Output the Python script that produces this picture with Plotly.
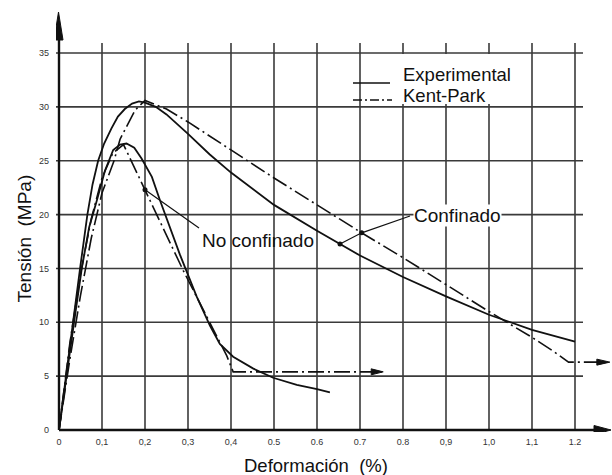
import numpy as np
import plotly.graph_objects as go

# ---------------- data ----------------
x_ticks = [0, 0.1, 0.2, 0.3, 0.4, 0.5, 0.6, 0.7, 0.8, 0.9, 1.0, 1.1, 1.2]
x_tick_labels = ["0", "0,1", "0,2", "0,3", "0,4", "0.5", "0.6", "0.7", "0.8", "0,9", "1,0", "1,1", "1.2"]
y_ticks = [0, 5, 10, 15, 20, 25, 30, 35]
y_tick_labels = ["0", "5", "10", "15", "20", "25", "30", "35"]

# Experimental, confined (solid)
exp_conf_x = [0, 0.016, 0.033, 0.049, 0.066, 0.078, 0.091, 0.105, 0.122, 0.137, 0.153, 0.17, 0.186,
              0.2, 0.225, 0.25, 0.3, 0.35, 0.4, 0.5, 0.6, 0.7, 0.8, 0.9, 1.0, 1.1, 1.2]
exp_conf_y = [0, 5.0, 10.0, 15.0, 20.0, 22.8, 25.0, 26.6, 28.0, 29.1, 29.8, 30.3, 30.5,
              30.4, 30.0, 29.3, 27.5, 25.6, 23.9, 20.9, 18.5, 16.2, 14.2, 12.4, 10.7, 9.3, 8.2]

# Experimental, unconfined (solid)
exp_unconf_x = [0, 0.017, 0.035, 0.053, 0.07, 0.088, 0.107, 0.126, 0.142, 0.157, 0.175, 0.192,
                0.216, 0.235, 0.26, 0.281, 0.297, 0.32, 0.351, 0.374, 0.405, 0.452, 0.498, 0.553, 0.6, 0.63]
exp_unconf_y = [0, 5.0, 10.0, 15.0, 18.8, 21.3, 24.1, 26.0, 26.5, 26.6, 26.2, 25.2,
                23.5, 21.3, 18.5, 16.3, 14.7, 12.4, 9.7, 8.0, 6.8, 5.7, 4.85, 4.2, 3.8, 3.5]

# Kent-Park model, confined (dash-dot)
kp_conf_x = [0, 0.025, 0.05, 0.075, 0.1, 0.128, 0.142, 0.177, 0.2, 0.25, 0.3, 0.4, 0.5, 0.6,
             0.7, 0.8, 0.9, 1.0, 1.1, 1.15, 1.185, 1.281]
kp_conf_y = [0, 6.5, 12.5, 17.8, 22.0, 25.0, 27.0, 29.7, 30.6, 29.8, 28.6, 26.0, 23.4, 20.9,
             18.4, 16.0, 13.5, 11.0, 8.6, 7.3, 6.3, 6.3]

# Kent-Park model, unconfined (dash-dot)
kp_unconf_x = [0, 0.025, 0.05, 0.075, 0.1, 0.125, 0.15, 0.2, 0.289, 0.39, 0.405, 0.754]
kp_unconf_y = [0, 8.0, 14.5, 19.6, 23.4, 25.7, 26.5, 22.3, 14.8, 6.9, 5.4, 5.4]

# ---------------- geometry helpers (pixel -> data) ----------------
W, H = 612, 475
X0, XS = 59.0, 430.0      # px of x=0, px per unit
Y0, YS = 430.0, 10.771    # px of y=0, px per unit
L, R, T, B = 56, 0, 5, 43


def dx(px):
    return (px - X0) / XS


def dy(py):
    return (Y0 - py) / YS


def px_x(px):
    return (px - L) / (W - L - R)


def px_y(py):
    return (H - B - py) / (H - T - B)


FONT = "Liberation Sans, Arial, sans-serif"
INK = "#111111"
GRID = "#3a3a3a"
KP_DASH = "16px,4px,2px,4px"

fig = go.Figure()

fig.add_trace(go.Scatter(x=exp_conf_x, y=exp_conf_y, mode="lines", line=dict(color=INK, width=1.8),
                         showlegend=False, hoverinfo="skip"))
fig.add_trace(go.Scatter(x=exp_unconf_x, y=exp_unconf_y, mode="lines", line=dict(color=INK, width=1.8),
                         showlegend=False, hoverinfo="skip"))
fig.add_trace(go.Scatter(x=kp_conf_x, y=kp_conf_y, mode="lines",
                         line=dict(color=INK, width=1.6, dash=KP_DASH), showlegend=False, hoverinfo="skip"))
fig.add_trace(go.Scatter(x=kp_unconf_x, y=kp_unconf_y, mode="lines",
                         line=dict(color=INK, width=1.6, dash=KP_DASH), showlegend=False, hoverinfo="skip"))

# leader dots on the curves
p_nc = (0.2, float(np.interp(0.2, kp_unconf_x, kp_unconf_y)))
x_cs = dx(340)
p_cs = (x_cs, float(np.interp(x_cs, exp_conf_x, exp_conf_y)))
x_ck = dx(361.7)
p_ck = (x_ck, float(np.interp(x_ck, kp_conf_x, kp_conf_y)))
fig.add_trace(go.Scatter(x=[p_nc[0], p_cs[0], p_ck[0]], y=[p_nc[1], p_cs[1], p_ck[1]], mode="markers",
                         marker=dict(color=INK, size=5), showlegend=False, hoverinfo="skip"))

shapes = []
# grid
for xv in x_ticks[1:]:
    shapes.append(dict(type="line", xref="x", yref="y", x0=xv, x1=xv, y0=0, y1=dy(43),
                       line=dict(color=GRID, width=1.6), layer="below"))
for yv in y_ticks[1:]:
    shapes.append(dict(type="line", xref="x", yref="y", x0=dx(55), x1=dx(583), y0=yv, y1=yv,
                       line=dict(color=GRID, width=1.6), layer="below"))
# white box behind legend text
shapes.append(dict(type="rect", xref="x", yref="y", x0=dx(398), x1=dx(526), y0=dy(104), y1=dy(54),
                   fillcolor="white", line=dict(width=0), layer="below"))
# axes
shapes.append(dict(type="line", xref="x", yref="y", x0=0, x1=0, y0=0, y1=dy(30),
                   line=dict(color=INK, width=2.4)))
shapes.append(dict(type="line", xref="x", yref="y", x0=0, x1=dx(600), y0=0, y1=0,
                   line=dict(color=INK, width=2.4)))


def head(tip_px, tip_py, direction, length, half):
    tx, ty = tip_px, tip_py
    if direction == "up":
        pts = [(tx - half, ty + length), (tx, ty), (tx + half, ty + length)]
    else:
        pts = [(tx - length, ty - half), (tx, ty), (tx - length, ty + half)]
    p = "M {} {} L {} {} L {} {} Z".format(dx(pts[0][0]), dy(pts[0][1]), dx(pts[1][0]), dy(pts[1][1]),
                                           dx(pts[2][0]), dy(pts[2][1]))
    return dict(type="path", xref="x", yref="y", path=p, fillcolor=INK, line=dict(color=INK, width=1))


shapes.append(head(X0 - 0.5, 12, "up", 28, 4.5))
shapes.append(head(611, Y0, "right", 17, 4.5))
shapes.append(head(X0 + XS * kp_unconf_x[-1], Y0 - YS * kp_unconf_y[-1], "right", 12, 3))
shapes.append(head(X0 + XS * kp_conf_x[-1], Y0 - YS * kp_conf_y[-1], "right", 13, 3))

# legend samples
shapes.append(dict(type="line", xref="x", yref="y", x0=dx(353), x1=dx(390), y0=dy(83), y1=dy(83),
                   line=dict(color=INK, width=1.6)))
shapes.append(dict(type="line", xref="x", yref="y", x0=dx(353), x1=dx(392), y0=dy(100), y1=dy(100),
                   line=dict(color=INK, width=1.6, dash="9px,3px,2px,3px")))

# leader lines
shapes.append(dict(type="line", xref="x", yref="y", x0=p_nc[0], y0=p_nc[1], x1=dx(199), y1=dy(228),
                   line=dict(color=INK, width=1.2)))
shapes.append(dict(type="path", xref="x", yref="y",
                   path="M {} {} L {} {} L {} {}".format(dx(410), dy(216), p_ck[0], p_ck[1], p_cs[0], p_cs[1]),
                   line=dict(color=INK, width=1.2)))

annotations = [
    dict(text="Experimental", x=dx(401), y=dy(74), xref="x", yref="y", xanchor="left", yanchor="middle",
         showarrow=False, font=dict(family=FONT, size=18.5, color=INK)),
    dict(text="Kent-Park", x=dx(401), y=dy(95), xref="x", yref="y", xanchor="left", yanchor="middle",
         showarrow=False, font=dict(family=FONT, size=18.5, color=INK)),
    dict(text="No confinado", x=dx(257.5), y=dy(240), xref="x", yref="y", showarrow=False,
         xanchor="center", yanchor="middle", font=dict(family=FONT, size=19, color=INK)),
    dict(text="Confinado", x=dx(457.5), y=dy(215), xref="x", yref="y", showarrow=False,
         xanchor="center", yanchor="middle",
         bgcolor="white", borderpad=0, font=dict(family=FONT, size=19, color=INK)),
    dict(text="Deformación  (%)", x=px_x(315.5), y=px_y(465), xref="paper", yref="paper", showarrow=False,
         xanchor="center", yanchor="middle", font=dict(family=FONT, size=18.5, color=INK)),
    dict(text="Tensión  (MPa)", x=px_x(24), y=px_y(238.5), xref="paper", yref="paper", showarrow=False,
         xanchor="center", yanchor="middle",
         textangle=-90, font=dict(family=FONT, size=19, color=INK)),
]

fig.update_layout(
    width=W, height=H,
    margin=dict(l=L, r=R, t=T, b=B, pad=0),
    paper_bgcolor="white", plot_bgcolor="white",
    shapes=shapes, annotations=annotations, showlegend=False,
    font=dict(family=FONT, color=INK),
)
fig.update_xaxes(range=[dx(L), dx(W - R)], tickvals=x_ticks, ticktext=x_tick_labels, showgrid=False,
                 zeroline=False, showline=False, ticks="", tickfont=dict(family=FONT, size=9, color="#333"),
                 ticklabelstandoff=3)
fig.update_yaxes(range=[dy(H - B), dy(T)], tickvals=y_ticks, ticktext=y_tick_labels, showgrid=False,
                 zeroline=False, showline=False, ticks="", tickfont=dict(family=FONT, size=9, color="#333"),
                 ticklabelstandoff=6)

fig.write_html("out.html", config={"displayModeBar": False},
               post_script="document.body.style.margin='0px';")
